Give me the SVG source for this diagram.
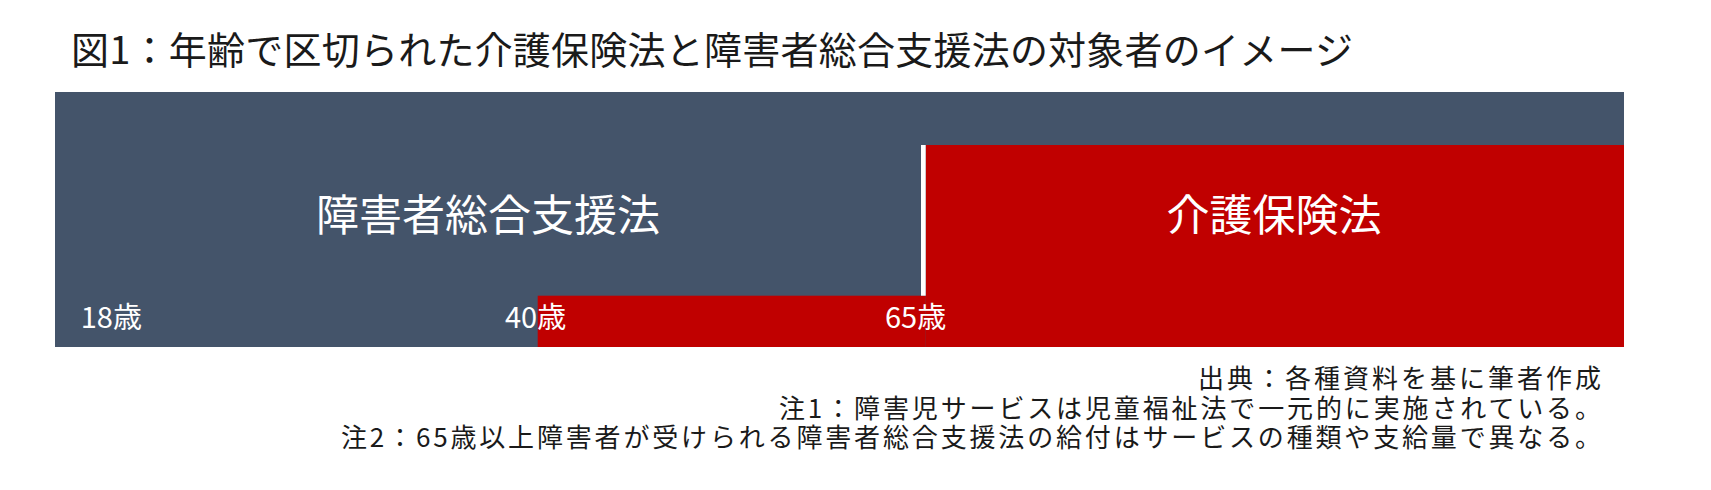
<svg xmlns="http://www.w3.org/2000/svg" width="1711" height="490" viewBox="0 0 1711 490">
<style>
text{font-family:"Noto Sans CJK JP","Noto Sans",sans-serif}
.title{font-size:38px;fill:#1a1a1a}
.big{font-size:43px;fill:#ffffff;text-anchor:middle}
.age{font-size:29px;fill:#ffffff}
.note{font-size:26px;fill:#1a1a1a;text-anchor:end}
</style>
<rect width="1711" height="490" fill="#ffffff"/>
<g id="title"><text class="title" x="71" y="64" textLength="1282" lengthAdjust="spacing">図1：年齢で区切られた介護保険法と障害者総合支援法の対象者のイメージ</text></g>
<g id="sogoshien">
<rect x="55" y="92" width="1569" height="255" fill="#44546A"/>
<text class="big" x="488" y="231">障害者総合支援法</text>
</g>
<g id="kaigo">
<rect x="925.7" y="145" width="698.3" height="202" fill="#C00000"/>
<rect x="537.7" y="295.7" width="388" height="51.3" fill="#C00000"/>
<rect x="921" y="145" width="4.7" height="150.7" fill="#ffffff"/>
<text class="big" x="1274" y="231">介護保険法</text>
</g>
<g id="ages">
<text class="age" x="80.7" y="328">18歳</text>
<text class="age" x="505" y="328">40歳</text>
<text class="age" x="885" y="328">65歳</text>
</g>
<g id="notes">
<text class="note" x="1601" y="388" textLength="403" lengthAdjust="spacing">出典：各種資料を基に筆者作成</text>
<text class="note" x="1601" y="417.5" textLength="822" lengthAdjust="spacing">注1：障害児サービスは児童福祉法で一元的に実施されている。</text>
<text class="note" x="1601" y="447" textLength="1260" lengthAdjust="spacing">注2：65歳以上障害者が受けられる障害者総合支援法の給付はサービスの種類や支給量で異なる。</text>
</g>
<g id="connectors"/>
</svg>
